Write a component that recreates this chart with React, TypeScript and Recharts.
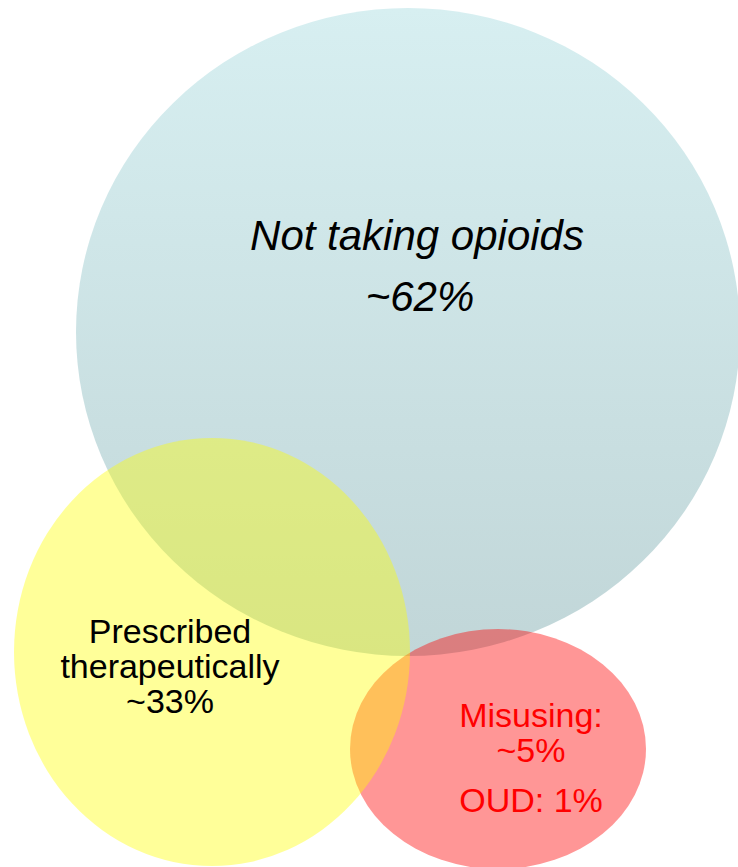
import { ScatterChart, Scatter, XAxis, YAxis } from 'recharts';

const W = 738;
const H = 867;

// ellipses, in page pixel units (drawn back to front)
const groups = ['Not taking opioids', 'Misusing', 'Prescribed therapeutically'];
const centerX = [408, 498, 212];
const centerY = [332, 749, 652];
const radiusX = [332, 148, 198];
const radiusY = [324, 120, 214];
const fills = ['url(#blueFade)', 'rgba(255,0,0,0.41)', 'rgba(255,255,0,0.4)'];

const circles = groups.map((name, i) => ({
  name,
  x: centerX[i],
  y: centerY[i],
  rx: radiusX[i],
  ry: radiusY[i],
  fill: fills[i],
}));

// text labels
const labelText = ['Not taking opioids', '~62%', 'Prescribed', 'therapeutically', '~33%', 'Misusing:', '~5%', 'OUD: 1%'];
const labelX = [417, 420, 170, 170, 170, 531, 531, 531];
const labelY = [250, 311, 643, 678, 713, 727, 762, 812];
const labelSize = [42, 42, 34, 34, 34, 34, 34, 34];
const labelItalic = [true, true, false, false, false, false, false, false];
const labelColor = ['#000', '#000', '#000', '#000', '#000', '#ff0000', '#ff0000', '#ff0000'];

const labels = labelText.map((text, i) => ({
  text,
  x: labelX[i],
  y: labelY[i],
  size: labelSize[i],
  italic: labelItalic[i],
  color: labelColor[i],
}));

// x and y domains equal the plot size, so one unit = one pixel
const kx = 1;
const ky = 1;

const Blob = (props: any) => {
  const { cx, cy, payload } = props;
  return <ellipse cx={cx} cy={cy} rx={payload.rx * kx} ry={payload.ry * ky} fill={payload.fill} />;
};

const Words = (props: any) => {
  const { cx, cy, payload } = props;
  return (
    <text
      x={cx}
      y={cy}
      textAnchor="middle"
      fontFamily="'Liberation Sans', Arial, sans-serif"
      fontSize={payload.size}
      fontStyle={payload.italic ? 'italic' : 'normal'}
      fill={payload.color}
    >
      {payload.text}
    </text>
  );
};

export default function App() {
  return (
    <div style={{ position: 'absolute', left: 0, top: 0, width: W, height: H, background: '#fff' }}>
      <ScatterChart width={W} height={H} margin={{ top: 0, right: 0, bottom: 0, left: 0 }}>
        <defs>
          <linearGradient id="blueFade" x1="0" y1="0" x2="0" y2="1">
            <stop offset="0%" stopColor="#d7eff1" />
            <stop offset="100%" stopColor="#c1d6d8" />
          </linearGradient>
        </defs>
        <XAxis type="number" dataKey="x" domain={[0, W]} hide />
        <YAxis type="number" dataKey="y" domain={[0, H]} reversed hide />
        <Scatter data={circles} shape={<Blob />} isAnimationActive={false} />
        <Scatter data={labels} shape={<Words />} isAnimationActive={false} />
      </ScatterChart>
    </div>
  );
}
